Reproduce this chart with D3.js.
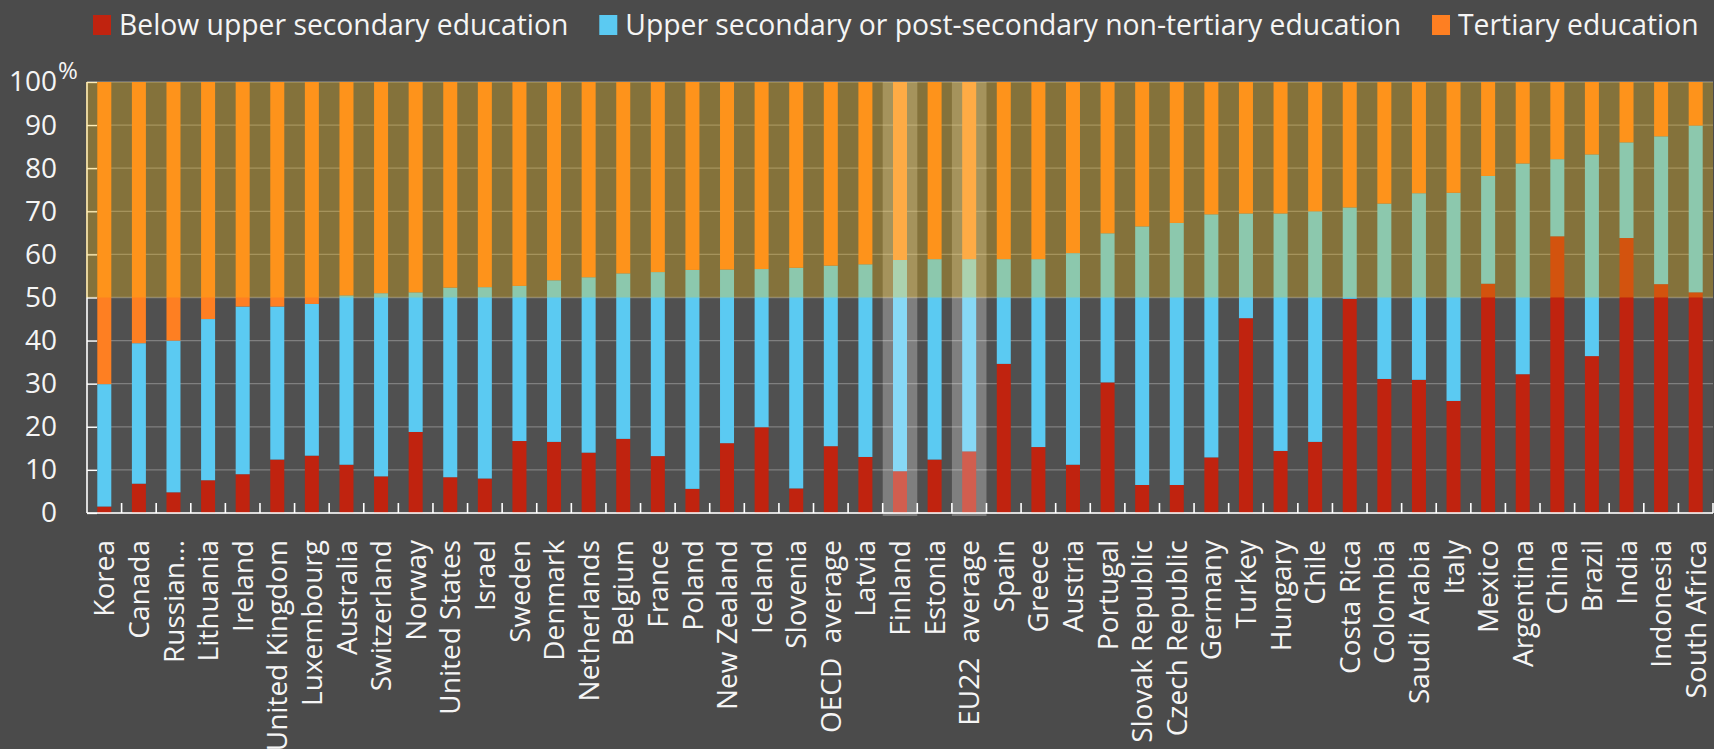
<!DOCTYPE html>
<html>
<head>
<meta charset="utf-8">
<script src="https://cdn.jsdelivr.net/npm/d3@7"></script>
<style>
  body { margin: 0; background: #4b4b4b; }
  svg { display: block; font-family: "Open Sans", sans-serif; }
</style>
</head>
<body>
<div id="chart"></div>
<script>
// Adult educational attainment, 100% stacked bars (share of 25-64 year-olds)

const categories = ["Korea", "Canada", "Russian...", "Lithuania", "Ireland", "United Kingdom",
  "Luxembourg", "Australia", "Switzerland", "Norway", "United States", "Israel", "Sweden",
  "Denmark", "Netherlands", "Belgium", "France", "Poland", "New Zealand", "Iceland", "Slovenia",
  "OECD  average", "Latvia", "Finland", "Estonia", "EU22  average", "Spain", "Greece", "Austria",
  "Portugal", "Slovak Republic", "Czech Republic", "Germany", "Turkey", "Hungary", "Chile",
  "Costa Rica", "Colombia", "Saudi Arabia", "Italy", "Mexico", "Argentina", "China", "Brazil",
  "India", "Indonesia", "South Africa"];

const belowUpper = [1.5, 6.8, 4.8, 7.6, 9.0, 12.4, 13.3, 11.2, 8.5, 18.8, 8.3, 8.0, 16.7, 16.5,
  14.0, 17.2, 13.2, 5.6, 16.2, 19.9, 5.7, 15.5, 13.0, 9.7, 12.4, 14.3, 34.6, 15.3, 11.2, 30.3,
  6.5, 6.5, 12.9, 45.2, 14.4, 16.5, 49.7, 31.1, 30.9, 26.0, 53.2, 32.2, 64.2, 36.4, 63.8, 53.1, 51.2];

const upperSecondary = [28.4, 32.6, 35.2, 37.4, 38.9, 35.5, 35.2, 39.3, 42.5, 32.4, 44.0, 44.4,
  36.0, 37.5, 40.7, 38.4, 42.7, 50.8, 40.3, 36.7, 51.2, 41.9, 44.7, 49.0, 46.5, 44.6, 24.3, 43.6,
  49.1, 34.6, 60.0, 60.8, 56.4, 24.3, 55.1, 53.5, 21.2, 40.7, 43.3, 48.3, 25.0, 48.9, 17.9, 46.8,
  22.2, 34.3, 38.7];

const tertiary = [70.1, 60.6, 60.0, 55.0, 52.1, 52.1, 51.5, 49.5, 49.0, 48.8, 47.7, 47.6, 47.3,
  46.0, 45.3, 44.4, 44.1, 43.6, 43.5, 43.4, 43.1, 42.6, 42.3, 41.3, 41.1, 41.1, 41.1, 41.1, 39.7,
  35.1, 33.5, 32.7, 30.7, 30.5, 30.5, 30.0, 29.1, 28.2, 25.8, 25.7, 21.8, 18.9, 17.9, 16.8, 14.0,
  12.6, 10.1];

const seriesNames = ["Below upper secondary education",
  "Upper secondary or post-secondary non-tertiary education", "Tertiary education"];
const seriesColors = ["#c0230f", "#5bcaf2", "#fe7f22"];
const highlighted = ["Finland", "EU22  average"];
const yTicks = [0, 10, 20, 30, 40, 50, 60, 70, 80, 90, 100];

const W = 1714, H = 749;
const pL = 87, pR = 1, pT = 82, pB = 236; // padding, clockwise from top

const svg = d3.select("#chart").append("svg")
  .attr("width", W).attr("height", H);

svg.append("rect").attr("width", W).attr("height", H).attr("fill", "#4b4b4b");

const x = d3.scaleBand().domain(categories).range([pL, W - pR]);
const y = d3.scaleLinear().domain([0, 100]).range([H - pB, pT]);
const barW = 14;

// plot area
svg.append("rect")
  .attr("x", pL).attr("y", pT)
  .attr("width", W - pR - pL).attr("height", y(0) - pT)
  .attr("fill", "#505050");

// gridlines
svg.append("g")
  .selectAll("line")
  .data(yTicks)
  .join("line")
  .attr("x1", pL).attr("x2", W - pR)
  .attr("y1", d => y(d)).attr("y2", d => y(d))
  .attr("stroke", "#7f7f7f")
  .attr("stroke-width", 1.3);

// stacked bars
const table = categories.map((c, i) => ({
  cat: c, below: belowUpper[i], upper: upperSecondary[i], tert: tertiary[i]
}));
const stack = d3.stack().keys(["below", "upper", "tert"])(table);

svg.append("g")
  .selectAll("g")
  .data(stack)
  .join("g")
  .attr("fill", (d, i) => seriesColors[i])
  .selectAll("rect")
  .data(d => d)
  .join("rect")
  .attr("x", d => x(d.data.cat) + (x.bandwidth() - barW) / 2)
  .attr("width", barW)
  .attr("y", d => y(d[1]))
  .attr("height", d => y(d[0]) - y(d[1]));

// highlighted columns
svg.append("g")
  .selectAll("rect")
  .data(highlighted)
  .join("rect")
  .attr("x", d => x(d))
  .attr("width", x.bandwidth())
  .attr("y", pT)
  .attr("height", y(0) - pT + 3)
  .attr("fill", "#ffffff")
  .attr("opacity", 0.27);

// y axis
const yAxis = d3.axisLeft(y).tickValues(yTicks).tickSize(-10).tickPadding(30);
const gy = svg.append("g")
  .attr("transform", `translate(${pL} 0)`)
  .call(yAxis);
gy.select(".domain").attr("stroke", "#ffffff").attr("stroke-width", 1.6).attr("d", `M0,${pT}V${y(0)}`);
gy.selectAll(".tick line").attr("stroke", "#ffffff").attr("stroke-width", 1.3);
gy.selectAll(".tick text")
  .attr("fill", "#f5f5f5")
  .attr("font-size", 28)
  .attr("font-family", "Open Sans, sans-serif");

svg.append("text")
  .attr("x", 58).attr("y", 79)
  .attr("fill", "#f5f5f5")
  .attr("font-size", 24)
  .text("%");

// x axis
const xAxis = d3.axisBottom(x).tickSize(0);
const gx = svg.append("g")
  .attr("transform", `translate(0 ${y(0)})`)
  .call(xAxis);
gx.select(".domain").attr("stroke", "#ffffff").attr("stroke-width", 1.6).attr("d", `M${pL},0H${W - pR}`);
gx.selectAll(".tick text")
  .attr("transform", "rotate(-90)")
  .attr("text-anchor", "end")
  .attr("x", -27)
  .attr("y", 0)
  .attr("dy", "0.36em")
  .attr("fill", "#f5f5f5")
  .attr("font-size", 28)
  .attr("font-family", "Open Sans, sans-serif")
  .style("white-space", "pre");

// category boundary ticks
gx.append("g")
  .selectAll("line")
  .data(categories)
  .join("line")
  .attr("x1", d => x(d) + x.step())
  .attr("x2", d => x(d) + x.step())
  .attr("y1", 0).attr("y2", -10)
  .attr("stroke", "#ffffff")
  .attr("stroke-width", 1.6);

// upper half overlay
svg.append("rect")
  .attr("x", pL - 1).attr("y", pT)
  .attr("width", W - pR - pL + 1).attr("height", y(50) - pT)
  .attr("fill", "rgb(255,195,12)")
  .attr("opacity", 0.3);

// legend
const legend = svg.append("g").attr("font-size", 28.3);
let lx = 93;
seriesNames.forEach((name, i) => {
  legend.append("rect")
    .attr("x", lx).attr("y", 15)
    .attr("width", 18).attr("height", 20)
    .attr("fill", seriesColors[i]);
  const t = legend.append("text")
    .attr("x", lx + 26).attr("y", 35)
    .attr("fill", "#f5f5f5")
    .text(name);
  lx += 26 + t.node().getComputedTextLength() + 31;
});
</script>
</body>
</html>
